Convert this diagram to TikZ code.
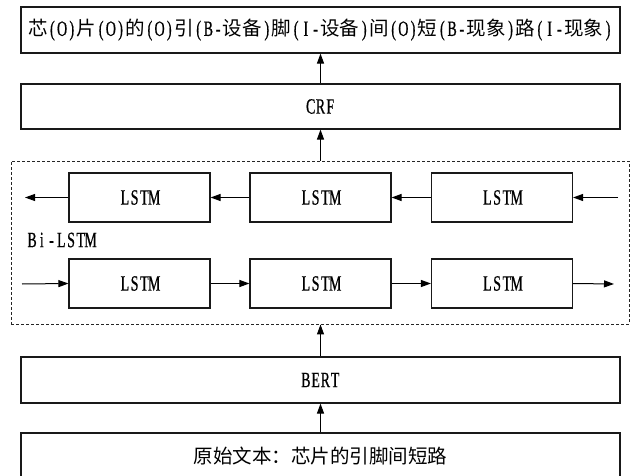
\documentclass[tikz,border=0pt]{standalone}
\usepackage{fontspec}
\usetikzlibrary{arrows.meta}
\newfontfamily\cjk{Noto Sans CJK SC}
\newfontfamily\lat[FakeStretch=0.64, Scale=1.12, FakeBold=0.6]{Liberation Serif}
\makeatletter
\newcommand\hw[1]{\hw@loop#1\@nil}
\def\hw@loop#1{\ifx#1\@nil\else\makebox[.5em]{\lat #1}\expandafter\hw@loop\fi}
\makeatother
\tikzset{
  bigbox/.style={draw=black!90, line width=1.1pt, minimum width=599pt, inner sep=0pt},
  lstmbox/.style={draw=black!90, line width=1.1pt, minimum width=141pt, minimum height=49pt, inner sep=0pt},
  dashbox/.style={draw=black!85, line width=0.9pt, dash pattern=on 3pt off 2pt, minimum width=618pt, minimum height=163pt, inner sep=0pt},
  arr/.style={line width=1pt, -{Triangle[length=10pt,width=7pt]}},
  txt/.style={font=\cjk\fontsize{19.5}{22}\selectfont}
}
\begin{document}
\begin{tikzpicture}[x=1pt,y=-1pt]
\useasboundingbox (0,0) rectangle (635,476);
\node[bigbox, txt, minimum height=46pt] (out) at (320.5,30) {芯\hw{(O)}片\hw{(O)}的\hw{(O)}引\hw{(B-}设备\hw{)}脚\hw{(I-}设备\hw{)}间\hw{(O)}短\hw{(B-}现象\hw{)}路\hw{(I-}现象\hw{)}};
\node[bigbox, txt, minimum height=45pt] (crf) at (320.5,106.5) {\hw{CRF}};
\node[dashbox] (bi) at (320,242.5) {};
\node[lstmbox, txt] (t1) at (139.5,197.5) {\hw{LSTM}};
\node[lstmbox, txt] (t2) at (320.5,197.5) {\hw{LSTM}};
\node[lstmbox, txt] (t3) at (502,197.5) {\hw{LSTM}};
\node[lstmbox, txt] (b1) at (139.5,283.5) {\hw{LSTM}};
\node[lstmbox, txt] (b2) at (320.5,283.5) {\hw{LSTM}};
\node[lstmbox, txt] (b3) at (502,283.5) {\hw{LSTM}};
\node[txt, anchor=west, inner sep=0pt] (lab) at (27,240) {\hw{Bi-LSTM}};
\node[bigbox, txt, minimum height=46pt] (bert) at (320.5,380) {\hw{BERT}};
\node[bigbox, txt, minimum height=46pt] (src) at (320.5,456) {原始文本：芯片的引脚间短路};
\coordinate (tl) at (25,197.5);
\coordinate (tr) at (618,197.5);
\coordinate (bl) at (22,284);
\coordinate (br) at (614,284);
\draw[arr] (t1.west) -- (tl);
\draw[arr] (t2.west) -- (t1.east);
\draw[arr] (t3.west) -- (t2.east);
\draw[arr] (tr) -- (t3.east);
\draw[arr] (bl) -- (b1.west);
\draw[arr] (b1.east) -- (b2.west);
\draw[arr] (b2.east) -- (b3.west);
\draw[arr] (b3.east) -- (br);
\draw[arr] (crf.north) -- (out.south);
\draw[arr] (bi.north -| crf.north) -- (crf.south);
\draw[arr] (bert.north) -- (bi.south -| bert.north);
\draw[arr] (src.north) -- (bert.south);
\end{tikzpicture}
\end{document}
